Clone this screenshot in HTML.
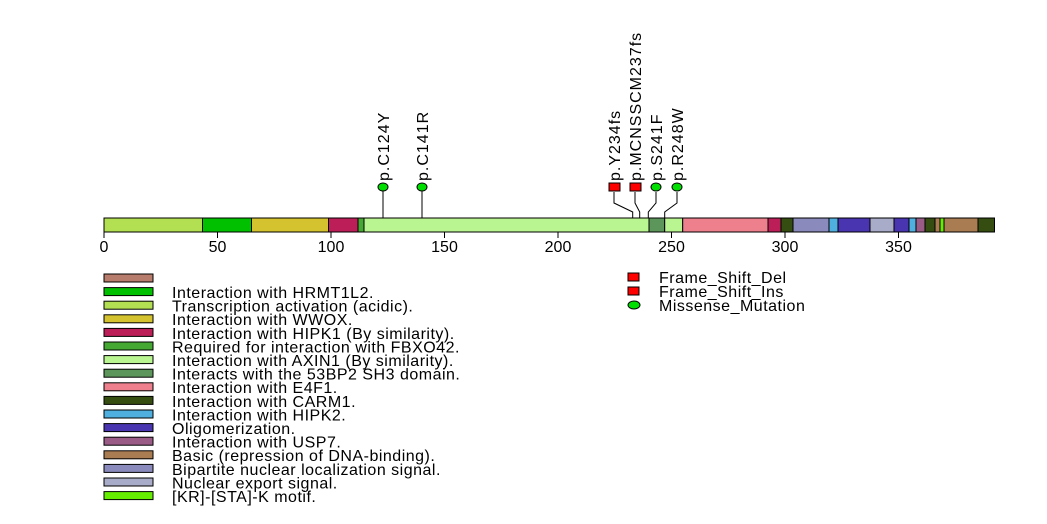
<!DOCTYPE html>
<html><head><meta charset="utf-8"><style>body{margin:0;background:#fff}svg{display:block}</style></head><body>
<svg width="1047" height="524" xmlns="http://www.w3.org/2000/svg" font-family="Liberation Sans, sans-serif">
<rect width="1047" height="524" fill="#fff"/>
<g stroke="#000" stroke-width="1">
<rect x="104" y="218" width="98.5" height="14" fill="#b3e052"/>
<rect x="202.5" y="218" width="49" height="14" fill="#00c000"/>
<rect x="251.5" y="218" width="77" height="14" fill="#d4c22e"/>
<rect x="328.5" y="218" width="29.5" height="14" fill="#bc1e58"/>
<rect x="358" y="218" width="6" height="14" fill="#44a832"/>
<rect x="364" y="218" width="285" height="14" fill="#b9f590"/>
<rect x="649" y="218" width="15.7" height="14" fill="#5c965a"/>
<rect x="664.7" y="218" width="18" height="14" fill="#b9f590"/>
<rect x="682.7" y="218" width="85.3" height="14" fill="#ee808e"/>
<rect x="768" y="218" width="13" height="14" fill="#bc1e58"/>
<rect x="781" y="218" width="12" height="14" fill="#354d10"/>
<rect x="793" y="218" width="36" height="14" fill="#8a8abd"/>
<rect x="829" y="218" width="9" height="14" fill="#4fb0e0"/>
<rect x="838" y="218" width="32" height="14" fill="#4a35b0"/>
<rect x="870" y="218" width="24" height="14" fill="#a8acc8"/>
<rect x="894" y="218" width="15" height="14" fill="#4a35b0"/>
<rect x="909" y="218" width="7" height="14" fill="#4fb0e0"/>
<rect x="916" y="218" width="9" height="14" fill="#9a5c86"/>
<rect x="925" y="218" width="10" height="14" fill="#354d10"/>
<rect x="935" y="218" width="5" height="14" fill="#aa7c52"/>
<rect x="940" y="218" width="4" height="14" fill="#66ee00"/>
<rect x="944" y="218" width="34" height="14" fill="#aa7c52"/>
<rect x="978" y="218" width="16.5" height="14" fill="#354d10"/>
<path d="M383 190V218M422 190V218" fill="none"/>
<path d="M632.7 218V212L614 203V192M639.7 218V212L635 203V192M648.3 218V212L656 203V192M664.7 218V212L677 203V192" fill="none"/>
<path d="M104 232V238M217.5 232V238M331 232V238M444.5 232V238M558 232V238M671.5 232V238M785 232V238M898.5 232V238"/>
</g>
<g font-size="16" text-anchor="middle" fill="#000">
<text x="104" y="252">0</text><text x="217.5" y="252">50</text><text x="331" y="252">100</text><text x="444.5" y="252">150</text><text x="558" y="252">200</text><text x="671.5" y="252">250</text><text x="785" y="252">300</text><text x="898.5" y="252">350</text>
</g>
<g stroke="#000" stroke-width="1">
<ellipse cx="383" cy="187" rx="5" ry="4" fill="#00e000"/>
<ellipse cx="422" cy="187" rx="5" ry="4" fill="#00e000"/>
<rect x="609" y="183" width="11" height="8" fill="#ff0000"/>
<rect x="630" y="183" width="11" height="8" fill="#ff0000"/>
<ellipse cx="656" cy="187" rx="5" ry="4" fill="#00e000"/>
<ellipse cx="677" cy="187" rx="5" ry="4" fill="#00e000"/>
</g>
<g font-size="16" letter-spacing="1" fill="#000">
<text transform="translate(389,181) rotate(-90)">p.C124Y</text>
<text transform="translate(428,181) rotate(-90)">p.C141R</text>
<text transform="translate(620,181) rotate(-90)">p.Y234fs</text>
<text transform="translate(641,181) rotate(-90)">p.MCNSSCM237fs</text>
<text transform="translate(662,181) rotate(-90)">p.S241F</text>
<text transform="translate(683,181) rotate(-90)">p.R248W</text>
</g>
<g stroke="#000" stroke-width="1">
<rect x="104" y="274" width="49" height="8" fill="#b87c6c"/>
<rect x="104" y="287.6" width="49" height="8" fill="#00c000"/>
<rect x="104" y="301.2" width="49" height="8" fill="#b3e052"/>
<rect x="104" y="314.8" width="49" height="8" fill="#d4c22e"/>
<rect x="104" y="328.4" width="49" height="8" fill="#bc1e58"/>
<rect x="104" y="342" width="49" height="8" fill="#44a832"/>
<rect x="104" y="355.6" width="49" height="8" fill="#b9f590"/>
<rect x="104" y="369.2" width="49" height="8" fill="#5c965a"/>
<rect x="104" y="382.8" width="49" height="8" fill="#ee808e"/>
<rect x="104" y="396.4" width="49" height="8" fill="#354d10"/>
<rect x="104" y="410" width="49" height="8" fill="#4fb0e0"/>
<rect x="104" y="423.6" width="49" height="8" fill="#4a35b0"/>
<rect x="104" y="437.2" width="49" height="8" fill="#9a5c86"/>
<rect x="104" y="450.8" width="49" height="8" fill="#aa7c52"/>
<rect x="104" y="464.4" width="49" height="8" fill="#8a8abd"/>
<rect x="104" y="478" width="49" height="8" fill="#a8acc8"/>
<rect x="104" y="491.6" width="49" height="8" fill="#66ee00"/>
<rect x="628" y="273" width="11" height="8" fill="#ff0000"/>
<rect x="628" y="287" width="11" height="8" fill="#ff0000"/>
<ellipse cx="634" cy="305" rx="6" ry="4" fill="#00e000"/>
</g>
<g font-size="16" letter-spacing="0.5" fill="#000">
<text x="172" y="298">Interaction with HRMT1L2.</text>
<text x="172" y="311.6">Transcription activation (acidic).</text>
<text x="172" y="325.2">Interaction with WWOX.</text>
<text x="172" y="338.8">Interaction with HIPK1 (By similarity).</text>
<text x="172" y="352.4">Required for interaction with FBXO42.</text>
<text x="172" y="366">Interaction with AXIN1 (By similarity).</text>
<text x="172" y="379.6">Interacts with the 53BP2 SH3 domain.</text>
<text x="172" y="393.2">Interaction with E4F1.</text>
<text x="172" y="406.8">Interaction with CARM1.</text>
<text x="172" y="420.4">Interaction with HIPK2.</text>
<text x="172" y="434">Oligomerization.</text>
<text x="172" y="447.6">Interaction with USP7.</text>
<text x="172" y="461.2">Basic (repression of DNA-binding).</text>
<text x="172" y="474.8">Bipartite nuclear localization signal.</text>
<text x="172" y="488.4">Nuclear export signal.</text>
<text x="172" y="502">[KR]-[STA]-K motif.</text>
<text x="659" y="283">Frame_Shift_Del</text>
<text x="659" y="297">Frame_Shift_Ins</text>
<text x="659" y="311">Missense_Mutation</text>
</g>
</svg>
</body></html>
